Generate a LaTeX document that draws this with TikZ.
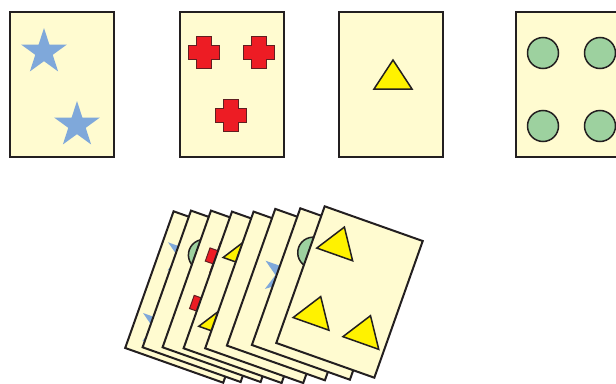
\documentclass[tikz,border=0pt]{standalone}
\usepackage{tikz}
\usetikzlibrary{shapes.geometric}

\definecolor{ink}{HTML}{231F20}
\definecolor{cardfill}{HTML}{FFFBD0}
\definecolor{starblue}{HTML}{7FA8DA}
\definecolor{crossred}{HTML}{ED1C24}
\definecolor{triyellow}{HTML}{FFF200}
\definecolor{dotgreen}{HTML}{9DD19F}

\begin{document}
\begin{tikzpicture}[x=1pt, y=-1pt,
  card/.style={draw=ink, fill=cardfill, line width=2pt, minimum width=104pt, minimum height=145pt, inner sep=0pt},
  starshape/.style={star, star points=5, star point ratio=2.618, minimum size=48pt, inner sep=0pt, fill=starblue},
  dot/.style={circle, draw=ink, line width=1.5pt, fill=dotgreen, minimum size=31pt, inner sep=0pt},
  tri/.pic={\draw[ink, line width=1.5pt, fill=triyellow, line join=miter] (0,-19.3) -- (19,9.7) -- (-19,9.7) -- cycle;},
  plus/.pic={\draw[ink!70!crossred, line width=1pt, fill=crossred] (-7.5,-16) -- (7.5,-16) -- (7.5,-7) -- (15.5,-7) -- (15.5,7) -- (7.5,7) -- (7.5,16) -- (-7.5,16) -- (-7.5,7) -- (-15.5,7) -- (-15.5,-7) -- (-7.5,-7) -- cycle;},
  fan/.style={rotate=-19.5, transform shape}
]
\useasboundingbox (0,0) rectangle (616,383);
\clip (0,0) rectangle (616,383);

\node[card] (c1) at (61.5,84) {};
\node[starshape] (c1s1) at (44,52) {};
\node[starshape] (c1s2) at (77,125) {};

\node[card] (c2) at (232,84) {};
\pic at (203.5,52) {plus};
\pic at (258.5,52) {plus};
\pic at (230.5,115.5) {plus};

\node[card] (c3) at (390.5,84) {};
\pic at (393,79.3) {tri};

\node[card] (c4) at (567.5,84) {};
\node[dot] (c4d1) at (543,53) {};
\node[dot] (c4d2) at (600,53) {};
\node[dot] (c4d3) at (543,126) {};
\node[dot] (c4d4) at (600,126) {};

\begin{scope}[shift={(198.4,297)}, fan]
  \node[card] (f1) at (0,0) {};
  \node[starshape] (f1s1) at (-24,-34) {};
  \node[starshape] (f1s2) at (-24,41) {};
\end{scope}
\begin{scope}[shift={(215.8,296.3)}, fan]
  \node[card] (f2) at (0,0) {};
  \node[dot] (f2d1) at (-25,-35) {};
\end{scope}
\begin{scope}[shift={(235.8,296.3)}, fan]
  \node[card] (f3) at (0,0) {};
  \pic at (-25,-30) {plus};
  \pic at (-24,20) {plus};
\end{scope}
\begin{scope}[shift={(256.8,297.3)}, fan]
  \node[card] (f4) at (0,0) {};
  \pic at (-26,-36) {tri};
  \pic at (-26,37) {tri};
\end{scope}
\begin{scope}[shift={(278.4,297.3)}, fan]
  \node[card] (f5) at (0,0) {};
\end{scope}
\begin{scope}[shift={(300.1,294.6)}, fan]
  \node[card] (f6) at (0,0) {};
  \node[starshape] (f6s1) at (-21,-13) {};
\end{scope}
\begin{scope}[shift={(325.1,294)}, fan]
  \node[card] (f7) at (0,0) {};
  \node[dot] (f7d1) at (-25,-35) {};
\end{scope}
\begin{scope}[shift={(349.5,292)}, fan]
  \node[card] (f8) at (0,0) {};
  \pic at (-26.5,-40.2) {tri};
  \pic at (-25.6,33.2) {tri};
  \pic at (27.7,34.6) {tri};
\end{scope}
\end{tikzpicture}
\end{document}
